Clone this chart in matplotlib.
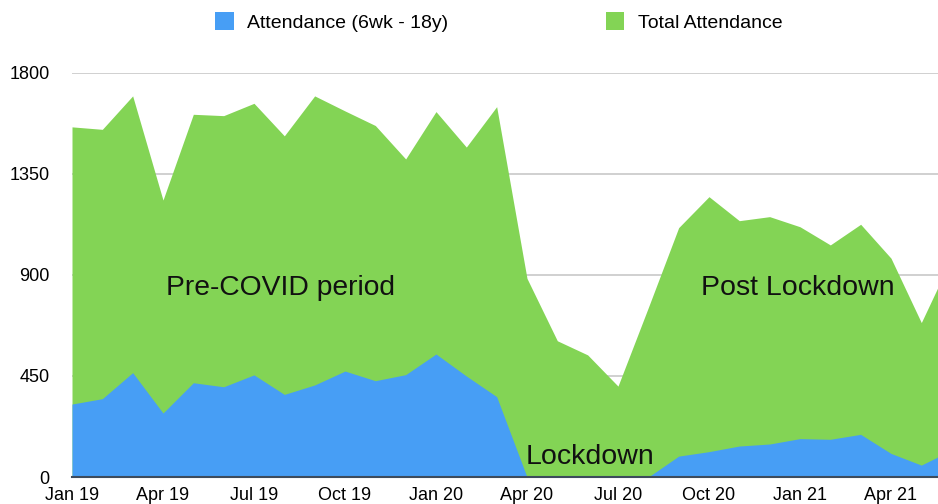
import numpy as np
import matplotlib
matplotlib.use('Agg')
import matplotlib.pyplot as plt
from matplotlib.patches import Patch

plt.rcParams['font.family'] = ['Liberation Sans', 'DejaVu Sans']

# monthly data, Jan 19 .. Jun 21
months = ['Jan 19', 'Feb 19', 'Mar 19', 'Apr 19', 'May 19', 'Jun 19', 'Jul 19', 'Aug 19',
          'Sep 19', 'Oct 19', 'Nov 19', 'Dec 19', 'Jan 20', 'Feb 20', 'Mar 20', 'Apr 20',
          'May 20', 'Jun 20', 'Jul 20', 'Aug 20', 'Sep 20', 'Oct 20', 'Nov 20', 'Dec 20',
          'Jan 21', 'Feb 21', 'Mar 21', 'Apr 21', 'May 21', 'Jun 21']
total = [1560, 1549, 1698, 1234, 1616, 1610, 1665, 1520, 1698, 1631, 1566, 1417,
         1628, 1470, 1650, 885, 607, 544, 405, 755, 1111, 1249, 1142, 1160,
         1115, 1034, 1126, 975, 688, 975]
youth = [325, 349, 465, 285, 420, 402, 455, 368, 410, 472, 429, 456,
         548, 450, 358, 0, 0, 0, 0, 0, 93, 113, 138, 147,
         171, 168, 190, 105, 53, 120]
y_ticks = [0, 450, 900, 1350, 1800]

blue = '#479ef5'
green = '#83d455'

x = np.arange(len(months))

fig = plt.figure(figsize=(9.38, 5.04), dpi=100)
ax = fig.add_axes([72/938, 1-477/504, 1-72/938, (477-73)/504])

ax.fill_between(x, 0, total, color=green, linewidth=0, zorder=2)
ax.fill_between(x, 0, youth, color=blue, linewidth=0, zorder=3)

ax.set_xlim(0, 28.55)
ax.set_ylim(0, 1800)
ax.set_yticks(y_ticks)
ax.set_yticklabels([str(v) for v in y_ticks], fontsize=13)
ax.set_xticks(x[::3])
ax.set_xticklabels(months[::3], fontsize=13)
ax.tick_params(axis='y', length=0, pad=16)
ax.tick_params(axis='x', length=0, pad=7)
ax.yaxis.grid(True, color='#c8c8c8', linewidth=1.2, zorder=1)
ax.set_axisbelow(True)
for s in ['top', 'right', 'left']:
    ax.spines[s].set_visible(False)
ax.spines['bottom'].set_color('#3d4b5c')
ax.spines['bottom'].set_linewidth(1.5)
ax.spines['bottom'].set_zorder(5)

ax.text(6.86, 840, 'Pre-COVID period', fontsize=20.3, ha='center', va='center', color='#111111', zorder=6)
ax.text(23.94, 840, 'Post Lockdown', fontsize=20.5, ha='center', va='center', color='#111111', zorder=6)
ax.text(17.08, 90, 'Lockdown', fontsize=20.5, ha='center', va='center', color='#111111', zorder=6)

handles = [Patch(facecolor=blue, label='Attendance (6wk - 18y)'),
           Patch(facecolor=green, label='Total Attendance')]
fig.legend(handles=handles, loc='center', bbox_to_anchor=(499/938, 1-22/504), ncol=2,
           frameon=False, fontsize=14, handlelength=0.95, handleheight=1.0,
           columnspacing=8.1, handletextpad=0.7)

fig.savefig('out.png', dpi=100)
